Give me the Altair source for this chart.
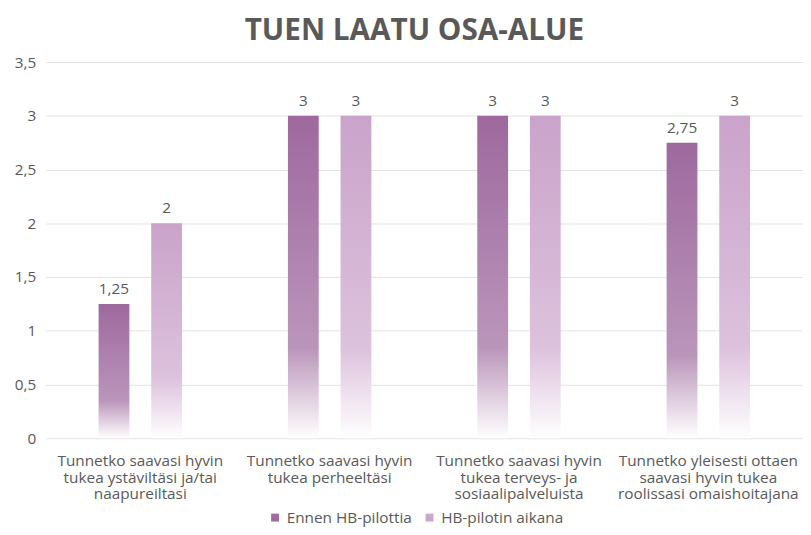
import altair as alt
import pandas as pd

categories = [
    "Tunnetko saavasi hyvin|tukea ystäviltäsi ja/tai|naapureiltasi",
    "Tunnetko saavasi hyvin|tukea perheeltäsi",
    "Tunnetko saavasi hyvin|tukea terveys- ja|sosiaalipalveluista",
    "Tunnetko yleisesti ottaen|saavasi hyvin tukea|roolissasi omaishoitajana",
]
series_names = ["Ennen HB-pilottia", "HB-pilotin aikana"]
before_values = [1.25, 3, 3, 2.75]
during_values = [2, 3, 3, 3]
y_ticks = [0, 0.5, 1, 1.5, 2, 2.5, 3, 3.5]

rows = []
for c, v in zip(categories, before_values):
    rows.append({"category": c, "series": series_names[0], "value": v})
for c, v in zip(categories, during_values):
    rows.append({"category": c, "series": series_names[1], "value": v})
df = pd.DataFrame(rows)

FONT = "Open Sans"
TXT = "#595959"
FS = 15.5


def grad(top, mid, bottom):
    return {
        "gradient": "linear",
        "x1": 0, "x2": 0, "y1": 0, "y2": 1,
        "stops": [
            {"offset": 0, "color": top},
            {"offset": 0.72, "color": mid},
            {"offset": 1, "color": bottom},
        ],
    }


x_enc = alt.X(
    "category:N",
    sort=categories,
    scale=alt.Scale(paddingInner=0.44, paddingOuter=0.22),
    axis=alt.Axis(
        title=None,
        labelExpr="split(datum.label, '|')",
        labelAngle=0,
        labelFont=FONT,
        labelFontSize=FS,
        labelColor=TXT,
        labelLineHeight=16.5,
        labelBaseline="top",
        labelPadding=16,
        labelLimit=300,
        domain=False,
        ticks=False,
        grid=False,
    ),
)
xo_enc = alt.XOffset(
    "series:N",
    sort=series_names,
    scale=alt.Scale(domain=series_names, paddingInner=0.415, paddingOuter=0.215),
)
y_enc = alt.Y(
    "value:Q",
    scale=alt.Scale(domain=[0, 3.5], nice=False),
    axis=alt.Axis(
        title=None,
        values=y_ticks,
        labelExpr="replace(toString(datum.value), '.', ',')",
        labelFont=FONT,
        labelFontSize=FS,
        labelColor=TXT,
        labelPadding=10,
        domain=False,
        ticks=False,
        grid=True,
        gridColor="#E3E3E3",
        gridWidth=1,
    ),
)

base = alt.Chart(df)

bars_before = base.transform_filter(
    alt.datum.series == series_names[0]
).mark_bar(
    color=grad("#9E699E", "#BA95BA", "#FFFFFF")
).encode(x=x_enc, xOffset=xo_enc, y=y_enc)

bars_during = base.transform_filter(
    alt.datum.series == series_names[1]
).mark_bar(
    color=grad("#CAA3CA", "#DCC2DC", "#FFFFFF")
).encode(x=x_enc, xOffset=xo_enc, y=y_enc)

legend_layer = base.mark_bar().encode(
    x=x_enc,
    xOffset=xo_enc,
    y=alt.datum(0),
    color=alt.Color(
        "series:N",
        sort=series_names,
        scale=alt.Scale(domain=series_names, range=["#A06CA0", "#CCA6CC"]),
        legend=alt.Legend(
            title=None,
            orient="none",
            direction="horizontal",
            legendX=224,
            legendY=452,
            symbolType="square",
            symbolSize=64,
            symbolOpacity=1,
            labelFont=FONT,
            labelFontSize=FS,
            labelColor=TXT,
            columnPadding=10,
            labelOffset=4,
        ),
    ),
)

labels = base.transform_calculate(
    label="replace(toString(datum.value), '.', ',')"
).mark_text(
    baseline="bottom", dy=-7, font=FONT, fontSize=FS, color=TXT
).encode(x=x_enc, xOffset=xo_enc, y=y_enc, text="label:N")

chart = alt.layer(bars_before, bars_during, legend_layer, labels).properties(
    width=765,
    height=380,
    padding={"left": 38, "top": 52, "right": 0, "bottom": 87},
    autosize=alt.AutoSizeParams(type="none"),
    title=alt.Title(
        "TUEN LAATU OSA-ALUE",
        font=FONT,
        fontSize=30,
        fontWeight="bold",
        color=TXT,
        anchor="middle",
        dx=-10,
        offset=9,
    ),
).configure_view(stroke=None)

chart.save("out.html", embed_options={"renderer": "svg", "actions": False})
